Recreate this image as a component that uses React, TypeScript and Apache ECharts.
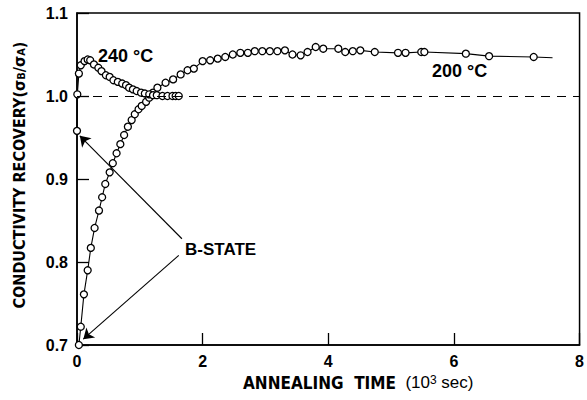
import React, { useEffect, useRef } from "react";
import * as echarts from "echarts";

// 240 °C anneal: [time (10^3 s), sigma_B / sigma_A]
const series240: [number, number][] = [
  [0, 0.958], [0.005, 1.002], [0.03, 1.027], [0.06, 1.037], [0.12, 1.042],
  [0.17, 1.044], [0.21, 1.043], [0.27, 1.038], [0.34, 1.034], [0.39, 1.03],
  [0.46, 1.025], [0.52, 1.023], [0.58, 1.019], [0.65, 1.017], [0.72, 1.015],
  [0.78, 1.013], [0.83, 1.01], [0.89, 1.008], [0.95, 1.006], [1.02, 1.004],
  [1.08, 1.003], [1.15, 1.002], [1.21, 1.001], [1.27, 1.001], [1.36, 1.0],
  [1.44, 1.0], [1.52, 1.0], [1.57, 1.0], [1.62, 1.0],
];

// 200 °C anneal
const series200: [number, number][] = [
  [0.03, 0.7], [0.06, 0.722], [0.11, 0.761], [0.17, 0.79], [0.22, 0.817],
  [0.28, 0.841], [0.35, 0.862], [0.4, 0.878], [0.45, 0.894], [0.52, 0.908],
  [0.57, 0.919], [0.63, 0.931], [0.69, 0.942], [0.75, 0.953], [0.81, 0.963],
  [0.87, 0.971], [0.92, 0.978], [0.98, 0.984], [1.03, 0.988], [1.1, 0.993],
  [1.15, 0.998], [1.21, 1.004], [1.28, 1.01], [1.41, 1.016], [1.53, 1.02],
  [1.65, 1.026], [1.76, 1.031], [1.86, 1.033], [2.0, 1.042], [2.12, 1.043],
  [2.24, 1.045], [2.36, 1.047], [2.48, 1.05], [2.6, 1.052], [2.72, 1.052],
  [2.83, 1.054], [2.95, 1.054], [3.07, 1.054], [3.19, 1.054], [3.31, 1.055],
  [3.43, 1.05], [3.56, 1.049], [3.67, 1.053], [3.8, 1.059], [3.92, 1.057],
  [4.16, 1.057], [4.27, 1.053], [4.39, 1.054], [4.51, 1.055], [4.74, 1.053],
  [5.11, 1.052], [5.23, 1.052], [5.48, 1.053], [5.53, 1.053], [6.19, 1.051],
  [6.56, 1.048], [7.27, 1.047],
];
// fitted line continues past the last point (no marker)
const lineEnd200: [number, number] = [7.57, 1.046];

const referenceLevel = 1.0;

// B-STATE annotation arrows: [from, to] in data coordinates
const bStateArrows: [[number, number], [number, number]][] = [
  [[1.67, 0.828], [0.045, 0.952]],
  [[1.62, 0.808], [0.1, 0.707]],
];

const xTicks = [0, 2, 4, 6, 8];
const yTicks = [0.7, 0.8, 0.9, 1.0, 1.1];

const BOLD = "'Liberation Sans Narrow', 'DejaVu Sans Condensed', 'Liberation Sans', sans-serif";
const SANS = "'Liberation Sans', Arial, sans-serif";

export default function App() {
  const ref = useRef<HTMLDivElement>(null);
  useEffect(() => {
    document.body.style.margin = "0";
    if (!ref.current) return;
    const chart = echarts.init(ref.current, undefined, { renderer: "svg" });
    const marker = {
      symbol: "circle",
      symbolSize: 7,
      itemStyle: { color: "#fff", borderColor: "#000", borderWidth: 1.3 },
      lineStyle: { color: "#000", width: 1.1 },
    };
    chart.setOption({
      animation: false,
      backgroundColor: "#fff",
      grid: {
        left: 77, right: 4, top: 13, bottom: 55,
        show: true, borderColor: "#000", borderWidth: 1.5,
      },
      xAxis: {
        type: "value",
        min: xTicks[0], max: xTicks[xTicks.length - 1], interval: 2,
        axisLine: { lineStyle: { color: "#000", width: 1.5 } },
        axisTick: { inside: true, length: 12, lineStyle: { color: "#000", width: 1.3 } },
        splitLine: { show: false },
        axisLabel: { color: "#000", fontWeight: "bold", fontSize: 16, fontFamily: SANS, margin: 8 },
      },
      yAxis: {
        type: "value",
        min: yTicks[0], max: yTicks[yTicks.length - 1], interval: 0.1,
        axisLine: { lineStyle: { color: "#000", width: 1.5 } },
        axisTick: { inside: true, length: 12, lineStyle: { color: "#000", width: 1.3 } },
        splitLine: { show: false },
        axisLabel: {
          color: "#000", fontWeight: "bold", fontSize: 16, fontFamily: SANS, margin: 9,
          formatter: (v: number) => v.toFixed(1),
        },
      },
      series: [
        {
          type: "line",
          name: "200 °C",
          ...marker,
          data: [
            ...series200.map((p) => ({ value: p })),
            { value: lineEnd200, symbol: "none" },
          ],
          markLine: {
            silent: true,
            symbol: ["none", "none"],
            label: { show: false },
            lineStyle: { color: "#000", type: [9, 7], width: 1.2 },
            data: [{ yAxis: referenceLevel }],
          },
          z: 2,
        },
        {
          type: "line",
          name: "240 °C",
          ...marker,
          data: series240,
          markLine: {
            silent: true,
            symbol: ["none", "arrow"],
            symbolSize: 10,
            label: { show: false },
            lineStyle: { color: "#000", type: "solid", width: 1.1 },
            data: bStateArrows.map(([a, b]) => [{ coord: a }, { coord: b }]),
          },
          z: 3,
        },
      ],
      graphic: [
        {
          type: "text", left: 98, top: 47,
          style: { text: "240 °C", font: `bold 18px ${SANS}`, fill: "#000" },
        },
        {
          type: "text", left: 432, top: 62,
          style: { text: "200 °C", font: `bold 18px ${SANS}`, fill: "#000" },
        },
        {
          type: "text", left: 185, top: 241,
          style: { text: "B-STATE", font: `bold 17px ${SANS}`, fill: "#000" },
        },
        {
          type: "text", left: 243, top: 374,
          style: {
            text: "{b|ANNEALING  TIME}{n|  (10}{s|3}{n| sec)}",
            fill: "#000",
            rich: {
              b: { fontFamily: BOLD, fontWeight: "bold", fontSize: 17, fill: "#000", verticalAlign: "bottom" },
              n: { fontFamily: SANS, fontSize: 17, fill: "#000", verticalAlign: "bottom" },
              s: { fontFamily: SANS, fontSize: 12, fill: "#000", verticalAlign: "top" },
            },
          },
        },
        {
          type: "text",
          x: 19, y: 175, rotation: Math.PI / 2,
          style: {
            text: "{b|CONDUCTIVITY RECOVERY(σ}{s|B}{b|/σ}{s|A}{b|)}",
            align: "center", verticalAlign: "middle",
            fill: "#000",
            rich: {
              b: { fontFamily: BOLD, fontWeight: "bold", fontSize: 16, fill: "#000", verticalAlign: "top" },
              s: { fontFamily: BOLD, fontWeight: "bold", fontSize: 11, fill: "#000", verticalAlign: "bottom" },
            },
          },
        },
      ],
    });
    return () => chart.dispose();
  }, []);
  return <div ref={ref} style={{ width: 587, height: 400 }} />;
}
